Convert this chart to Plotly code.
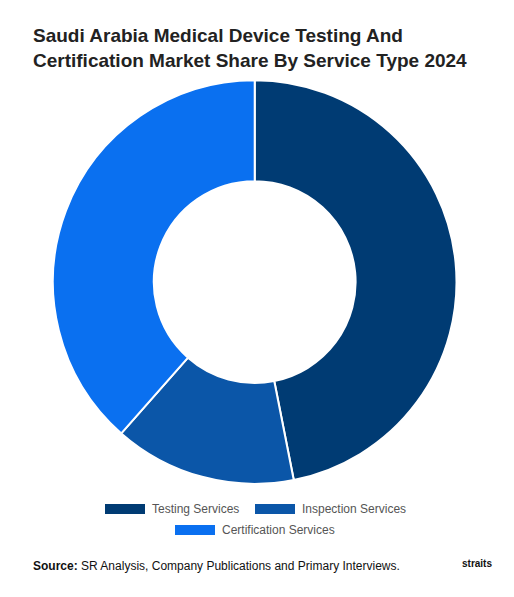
import plotly.graph_objects as go

labels = ["Testing Services", "Inspection Services", "Certification Services"]
values = [46.9, 14.6, 38.5]
colors = ["#003b73", "#0b56a8", "#0a70f0"]

fig = go.Figure(go.Pie(
    labels=labels, values=values, hole=0.5, sort=False, direction="clockwise",
    rotation=0, marker=dict(colors=colors, line=dict(color="white", width=2)),
    textinfo="none", hoverinfo="label+percent", showlegend=False,
    domain=dict(x=[0.087, 0.873], y=[0.203, 0.879]),
))

W, H = 514, 597
legend_pos = [(97, 501), (247, 501), (167, 522)]  # pixel anchors of legend swatches
shapes = []
anns = []
for (px, py), lab, col in zip(legend_pos, labels, colors):
    shapes.append(dict(type="rect", xref="paper", yref="paper",
                       x0=px / W, x1=(px + 40) / W, y0=1 - (py + 5) / H, y1=1 - (py - 5) / H,
                       fillcolor=col, line=dict(width=0)))
    anns.append(dict(text=lab, x=(px + 45) / W, y=1 - py / H, xref="paper", yref="paper",
                     xanchor="left", yanchor="middle", showarrow=False,
                     font=dict(size=12, color="#555")))

fig.update_layout(
    width=W, height=H, paper_bgcolor="white", plot_bgcolor="white",
    margin=dict(l=0, r=0, t=0, b=0),
    font=dict(family="Liberation Sans, Arial", color="#333"),
    shapes=shapes,
    annotations=anns + [
        dict(text="<b>Saudi Arabia Medical Device Testing And<br>Certification Market Share By Service Type 2024</b>",
             x=0.045, y=0.975, xref="paper", yref="paper", xanchor="left", yanchor="top",
             showarrow=False, align="left", font=dict(size=19, color="#222")),
        dict(text="<b>Source:</b> SR Analysis, Company Publications and Primary Interviews.",
             x=0.045, y=0.066, xref="paper", yref="paper", xanchor="left", yanchor="middle",
             showarrow=False, font=dict(size=12, color="#111")),
        dict(text="<b>straits</b>", x=0.88, y=0.07, xref="paper", yref="paper",
             xanchor="left", yanchor="middle", showarrow=False, font=dict(size=10, color="#111")),
    ],
)
fig.write_html("out.html")
